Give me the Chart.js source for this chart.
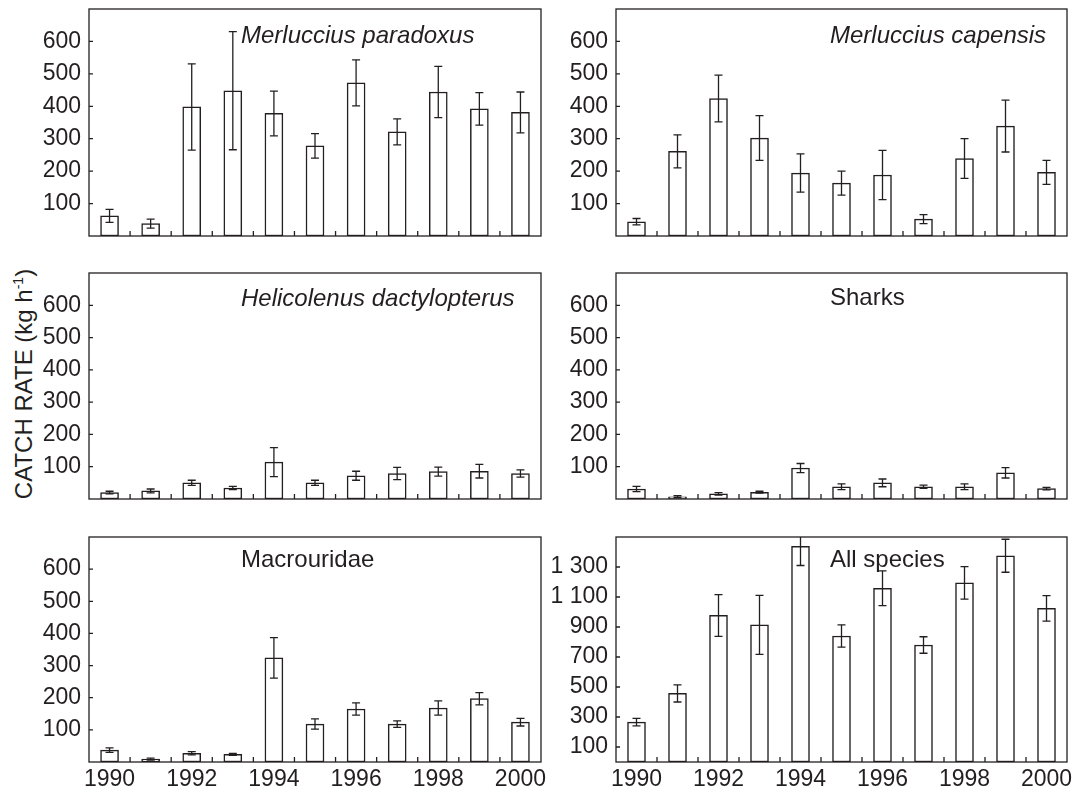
<!DOCTYPE html>
<html>
<head>
<meta charset="utf-8">
<script src="https://cdn.jsdelivr.net/npm/chart.js@4.4.1/dist/chart.umd.min.js"></script>
<style>
  body { margin: 0; background: #fff; }
  #wrap { position: relative; width: 1074px; height: 789px; overflow: hidden; }
  #wrap canvas { position: absolute; }
  #ylabel {
    position: absolute; left: 24px; top: 384px;
    transform: translate(-50%, -50%) rotate(-90deg);
    white-space: nowrap; color: #231f20;
    font: 24px "Liberation Sans", Arial, sans-serif;
  }
  #ylabel sup { font-size: 14px; }
</style>
</head>
<body>
<div id="wrap">
  <div id="ylabel">CATCH RATE (kg h<sup>-1</sup>)</div>
</div>
<script>
const years = ['1990', '1991', '1992', '1993', '1994', '1995', '1996', '1997', '1998', '1999', '2000'];

const paradoxus = [62, 38, 398, 448, 378, 278, 472, 321, 444, 392, 381];
const paradoxusErr = [20, 14, 133, 182, 69, 38, 71, 40, 79, 50, 63];
const capensis = [44, 261, 424, 302, 194, 163, 188, 52, 239, 339, 196];
const capensisErr = [10, 51, 72, 69, 59, 37, 76, 14, 61, 80, 37];
const helicolenus = [20, 25, 50, 34, 114, 50, 72, 79, 85, 86, 79];
const helicolenusErr = [4, 6, 8, 5, 45, 8, 14, 19, 14, 21, 11];
const sharks = [31, 7, 16, 21, 96, 38, 50, 38, 38, 81, 32];
const sharksErr = [8, 3, 4, 3, 14, 9, 12, 5, 9, 16, 4];
const macrouridae = [37, 9, 27, 24, 324, 118, 165, 118, 168, 197, 124];
const macrouridaeErr = [7, 3, 5, 3, 63, 16, 19, 10, 22, 19, 12];
const allSpecies = [266, 457, 977, 914, 1438, 840, 1158, 780, 1194, 1375, 1024];
const allSpeciesErr = [25, 57, 139, 197, 128, 74, 116, 55, 108, 110, 85];

const speciesTicks = [100, 200, 300, 400, 500, 600];
const allTicks = [100, 300, 500, 700, 900, 1100, 1300];

const ink = '#231f20';
const fontFamily = '"Liberation Sans", Arial, sans-serif';

// column / row geometry of the boxes
const cols = [
  { left: 0, width: 548, boxLeft: 89, boxRight: 541, titleX: 152 },
  { left: 548, width: 526, boxLeft: 616, boxRight: 1067, titleX: 214 }
];
const rows = [
  { boxTop: 9, boxBottom: 236, xh: 10 },
  { boxTop: 273, boxBottom: 499, xh: 10 },
  { boxTop: 537, boxBottom: 762, xh: 27 }
];

const panels = [
  { values: paradoxus, err: paradoxusErr, title: 'Merluccius paradoxus', italic: true, col: 0, row: 0, max: 700, ticks: speciesTicks, titleY: 34 },
  { values: capensis, err: capensisErr, title: 'Merluccius capensis', italic: true, col: 1, row: 0, max: 700, ticks: speciesTicks, titleY: 34 },
  { values: helicolenus, err: helicolenusErr, title: 'Helicolenus dactylopterus', italic: true, col: 0, row: 1, max: 700, ticks: speciesTicks, titleY: 33 },
  { values: sharks, err: sharksErr, title: 'Sharks', italic: false, col: 1, row: 1, max: 700, ticks: speciesTicks, titleY: 32 },
  { values: macrouridae, err: macrouridaeErr, title: 'Macrouridae', italic: false, col: 0, row: 2, max: 700, ticks: speciesTicks, titleY: 29.5 },
  { values: allSpecies, err: allSpeciesErr, title: 'All species', italic: false, col: 1, row: 2, max: 1500, ticks: allTicks, titleY: 29.5 }
];

function fmt(v) {
  if (v >= 1000) return Math.floor(v / 1000) + ' ' + String(v % 1000).padStart(3, '0');
  return String(v);
}

function panelPlugin(p) {
  return {
    id: 'panel',
    afterDatasetsDraw(chart) {
      const { ctx, chartArea: a, scales: { x, y } } = chart;
      ctx.save();
      ctx.strokeStyle = ink;
      ctx.lineWidth = 1.3;
      // error bars: stem clipped to the box, caps not
      p.err.forEach((e, i) => {
        const px = x.getPixelForValue(i);
        const top = y.getPixelForValue(p.values[i] + e);
        const bot = y.getPixelForValue(p.values[i] - e);
        ctx.save();
        ctx.beginPath();
        ctx.rect(a.left, a.top, a.right - a.left, a.bottom - a.top);
        ctx.clip();
        ctx.beginPath();
        ctx.moveTo(px, top);
        ctx.lineTo(px, bot);
        ctx.stroke();
        ctx.restore();
        ctx.beginPath();
        ctx.moveTo(px - 4, top); ctx.lineTo(px + 4, top);
        ctx.moveTo(px - 4, bot); ctx.lineTo(px + 4, bot);
        ctx.stroke();
      });
      // frame
      ctx.strokeRect(a.left, a.top, a.right - a.left, a.bottom - a.top);
      ctx.beginPath();
      // inward ticks between years
      for (let i = 0; i < p.values.length - 1; i++) {
        const px = (x.getPixelForValue(i) + x.getPixelForValue(i + 1)) / 2;
        ctx.moveTo(px, a.bottom);
        ctx.lineTo(px, a.bottom - 5);
      }
      // inward y ticks
      p.ticks.forEach(v => {
        const py = y.getPixelForValue(v);
        ctx.moveTo(a.left, py);
        ctx.lineTo(a.left + 4, py);
      });
      ctx.stroke();
      // panel title
      ctx.fillStyle = ink;
      ctx.font = (p.italic ? 'italic ' : '') + '24px ' + fontFamily;
      ctx.textBaseline = 'alphabetic';
      ctx.textAlign = 'left';
      ctx.fillText(p.title, a.left + cols[p.col].titleX, a.top + p.titleY);
      ctx.restore();
    }
  };
}

const wrap = document.getElementById('wrap');

panels.forEach(p => {
  const c = cols[p.col];
  const r = rows[p.row];
  const top = r.boxTop - 9;
  const height = r.boxBottom + r.xh - top;
  const canvas = document.createElement('canvas');
  canvas.width = c.width;
  canvas.height = height;
  canvas.style.left = c.left + 'px';
  canvas.style.top = top + 'px';
  canvas.style.width = c.width + 'px';
  canvas.style.height = height + 'px';
  wrap.appendChild(canvas);

  const bottomRow = p.row === 2;

  new Chart(canvas, {
    type: 'bar',
    data: {
      labels: years,
      datasets: [{
        data: p.values,
        backgroundColor: '#ffffff',
        borderColor: ink,
        borderWidth: 1.5,
        borderSkipped: false,
        barThickness: 18
      }]
    },
    options: {
      responsive: false,
      devicePixelRatio: 1,
      animation: false,
      layout: { padding: { top: 9, right: c.width - (c.boxRight - c.left), bottom: 0, left: 0 } },
      plugins: { legend: { display: false }, tooltip: { enabled: false } },
      scales: {
        x: {
          grid: { display: false, drawTicks: false },
          border: { display: false },
          ticks: {
            display: bottomRow,
            autoSkip: false,
            maxRotation: 0,
            padding: 4,
            color: ink,
            font: { family: fontFamily, size: 23 },
            callback: (v, i) => (i % 2 === 0 ? years[i] : '')
          },
          afterFit: s => { s.height = r.xh; s.paddingLeft = 0; s.paddingRight = 0; }
        },
        y: {
          min: 0,
          max: p.max,
          grid: { display: false, drawTicks: false },
          border: { display: false },
          ticks: {
            padding: 8,
            color: ink,
            font: { family: fontFamily, size: 23 },
            callback: v => fmt(v)
          },
          afterBuildTicks: s => { s.ticks = p.ticks.map(v => ({ value: v })); },
          afterFit: s => { s.width = c.boxLeft - c.left; s.paddingTop = 0; s.paddingBottom = 0; }
        }
      }
    },
    plugins: [panelPlugin(p)]
  });
});
</script>
</body>
</html>
